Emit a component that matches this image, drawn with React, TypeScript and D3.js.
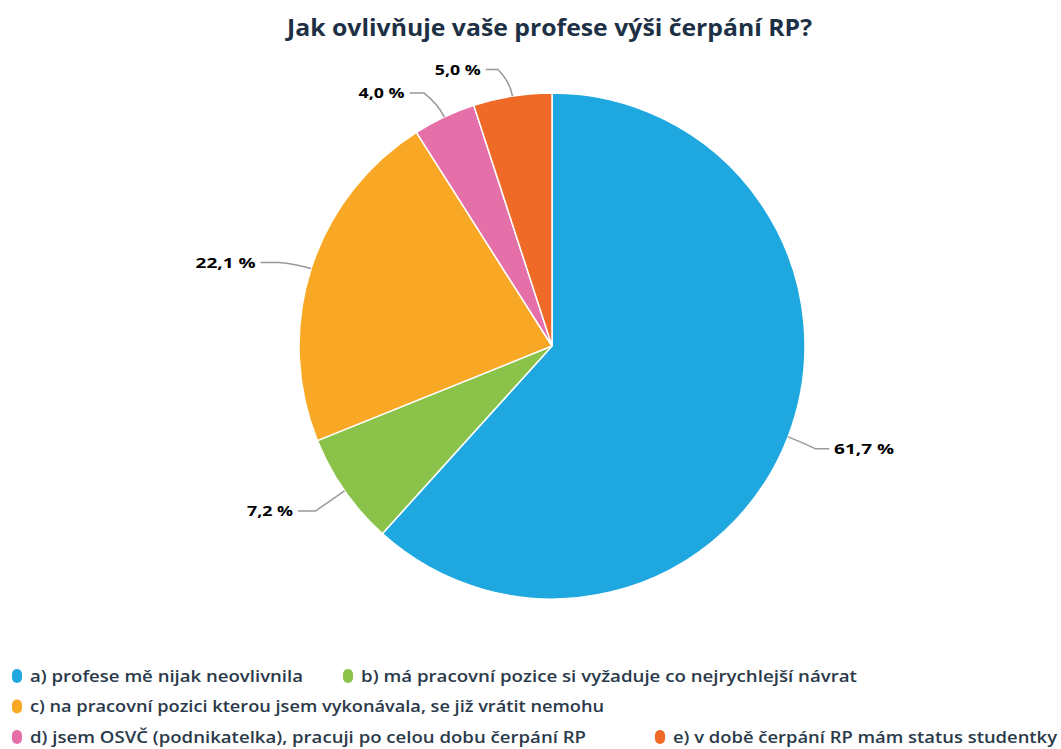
import React from "react";
import * as d3 from "d3";

const categories = [
  "a) profese mě nijak neovlivnila",
  "b) má pracovní pozice si vyžaduje co nejrychlejší návrat",
  "c) na pracovní pozici kterou jsem vykonávala, se již vrátit nemohu",
  "d) jsem OSVČ (podnikatelka), pracuji po celou dobu čerpání RP",
  "e) v době čerpání RP mám status studentky",
];
const values = [61.7, 7.2, 22.1, 4.0, 5.0];
const colors = ["#1fa8e0", "#8bc34a", "#f9a825", "#e46fa9", "#f06a27"];
const title = "Jak ovlivňuje vaše profese výši čerpání RP?";

// legend layout: [row, x, textWidth]
const legendPos: [number, number, number][] = [
  [0, 12, 273],
  [0, 343, 496],
  [1, 12, 574],
  [2, 12, 556],
  [2, 655, 384],
];

const W = 1061;
const H = 749;
const cx = 552;
const cy = 346;
const R = 253;

export default function App() {
  const pie = d3.pie<number>().sort(null).value((d) => d)(values);
  const arc = d3.arc<d3.PieArcDatum<number>>().innerRadius(0).outerRadius(R);
  const fmt = (v: number) => v.toFixed(1).replace(".", ",") + " %";

  return (
    <svg
      width={W}
      height={H}
      style={{ position: "absolute", left: 0, top: 0, background: "#fff" }}
      fontFamily="'Open Sans', sans-serif"
    >
      <text
        x={287}
        y={36}
        fontSize={23}
        fontWeight={700}
        fill="#1d3045"
        textLength={525}
        lengthAdjust="spacingAndGlyphs"
      >
        {title}
      </text>
      <g transform={`translate(${cx},${cy})`}>
        {pie.map((p, i) => (
          <path key={i} d={arc(p) || ""} fill={colors[i]} stroke="#fff" strokeWidth={1.5} />
        ))}
        {pie.map((p, i) => {
          const mid = (p.startAngle + p.endAngle) / 2;
          const sx = Math.sin(mid);
          const sy = -Math.cos(mid);
          const right = sx > 0;
          const x0 = sx * R;
          const y0 = sy * R;
          const x1 = sx * (R + 14);
          const y1 = sy * (R + 14);
          const lx = sx * (R + 30) + (right ? 18 : -27);
          const ly = sy * (R + 30) + (right ? 1 : 3);
          const x2 = lx + (right ? -5 : 5);
          const path = `M${x0},${y0} Q${x1},${y1} ${(x1 + x2) / 2},${ly} L${x2},${ly}`;
          const txt = fmt(values[i]);
          return (
            <g key={"l" + i}>
              <path d={path} fill="none" stroke="#999" strokeWidth={1.5} />
              <text
                x={lx}
                y={ly}
                dy="0.35em"
                textAnchor={right ? "start" : "end"}
                fontSize={15}
                fontWeight={700}
                fill="#000"
                textLength={txt.length >= 6 ? 60 : 46}
                lengthAdjust="spacingAndGlyphs"
              >
                {txt}
              </text>
            </g>
          );
        })}
      </g>
      <g>
        {categories.map((c, i) => {
          const [row, x, tw] = legendPos[i];
          const y = 676 + row * 30.5;
          return (
            <g key={"lg" + i}>
              <rect x={x} y={y - 7} width={10} height={14} rx={5} fill={colors[i]} />
              <text
                x={x + 18}
                y={y}
                dy="0.35em"
                fontSize={16}
                fontWeight={600}
                fill="#2b3a4a"
                textLength={tw}
                lengthAdjust="spacingAndGlyphs"
              >
                {c}
              </text>
            </g>
          );
        })}
      </g>
    </svg>
  );
}
